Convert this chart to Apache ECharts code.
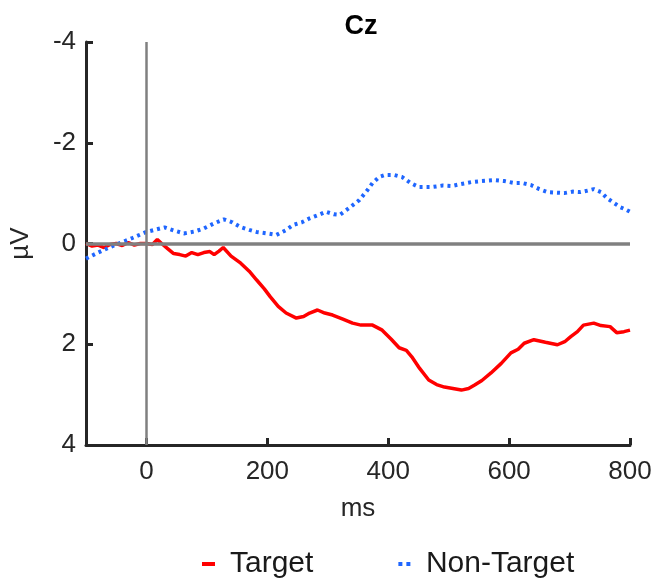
<!DOCTYPE html>
<html>
<head>
<meta charset="utf-8">
<script src="https://cdn.jsdelivr.net/npm/echarts@6/dist/echarts.min.js"></script>
<style>html,body{margin:0;padding:0;background:#fff;}#main{width:665px;height:579px;}</style>
</head>
<body>
<div id="main"></div>
<script>
const title = 'Cz';
const xTicks = [0, 200, 400, 600, 800];
const yTicks = [-4, -2, 0, 2, 4];
const seriesNames = ['Target', 'Non-Target'];

const targetTimes = [-100,-90,-80,-70,-60,-50,-40,-30,-20,-10,0,10,18,25,35,45,55,65,75,85,95,105,112,120,127,140,156,170,182,195,205,218,231,248,260,270,283,295,308,325,341,355,374,390,405,418,430,439,452,467,480,493,507,521,533,543,555,570,587,603,615,625,641,660,680,692,702,713,723,740,752,767,778,790,800];
const targetValues = [0.0,0.05,0.03,0.08,0.02,0.0,0.04,-0.02,0.03,0.0,0.0,0.02,-0.08,0.0,0.1,0.2,0.22,0.25,0.18,0.22,0.18,0.16,0.22,0.15,0.08,0.25,0.39,0.55,0.72,0.9,1.06,1.25,1.38,1.48,1.45,1.38,1.32,1.38,1.42,1.5,1.58,1.62,1.62,1.72,1.9,2.07,2.12,2.25,2.48,2.71,2.8,2.85,2.88,2.91,2.88,2.81,2.72,2.57,2.38,2.17,2.1,1.98,1.91,1.96,2.01,1.95,1.85,1.75,1.62,1.58,1.63,1.65,1.77,1.75,1.72];

const nonTargetTimes = [-100,-80,-52,-25,0,30,45,62,80,95,112,128,142,155,170,182,200,215,230,243,257,270,285,297,310,320,335,352,365,374,385,395,410,423,437,451,472,490,505,520,538,555,576,592,609,622,636,650,664,678,691,705,718,730,740,752,762,774,784,792,800];
const nonTargetValues = [0.3,0.18,0.03,-0.1,-0.23,-0.32,-0.26,-0.2,-0.24,-0.3,-0.4,-0.48,-0.42,-0.33,-0.27,-0.23,-0.2,-0.17,-0.26,-0.37,-0.42,-0.5,-0.57,-0.63,-0.58,-0.57,-0.7,-0.86,-1.05,-1.2,-1.32,-1.36,-1.36,-1.32,-1.2,-1.12,-1.12,-1.15,-1.14,-1.18,-1.22,-1.24,-1.26,-1.24,-1.2,-1.2,-1.16,-1.08,-1.02,-1.01,-1.0,-1.03,-1.02,-1.05,-1.08,-1.02,-0.9,-0.8,-0.72,-0.68,-0.63];

const zip = (t, v) => t.map((x, i) => [x, v[i]]);
const FONT = '"Liberation Sans", Arial, sans-serif';
const AX = '#262626';

const chart = echarts.init(document.getElementById('main'), null, {renderer: 'canvas'});
chart.setOption({
  animation: false,
  backgroundColor: '#ffffff',
  title: {
    text: title, left: 356, top: 8, textAlign: 'center',
    textStyle: {fontFamily: FONT, fontSize: 27, fontWeight: 'bold', color: '#000'}
  },
  grid: {left: 81, right: 35, top: 42, bottom: 134, containLabel: false},
  legend: {
    data: [
      {name: 'Target', icon: 'rect'},
      {name: 'Non-Target', icon: 'path://M0,0h4v4h-4z M8,0h4v4h-4z'}
    ],
    left: 202, top: 549, padding: 0, itemWidth: 13, itemHeight: 4, itemGap: 85,
    textStyle: {fontFamily: FONT, fontSize: 30, color: '#1a1a1a', padding: [0, 0, 0, 10]}
  },
  xAxis: {
    type: 'value', min: -100, max: 800,
    name: 'ms', nameLocation: 'middle', nameGap: 51,
    nameTextStyle: {fontFamily: FONT, fontSize: 26, color: AX},
    axisLine: {show: true, onZero: false, lineStyle: {color: AX, width: 3}},
    axisTick: {show: true, inside: true, length: 7, customValues: xTicks, lineStyle: {color: AX, width: 3}},
    axisLabel: {customValues: xTicks, margin: 14, fontFamily: FONT, fontSize: 26, color: AX},
    splitLine: {show: false}
  },
  yAxis: {
    type: 'value', min: -4, max: 4, interval: 2, inverse: true,
    name: 'µV', nameLocation: 'middle', nameGap: 52, nameRotate: 90,
    nameTextStyle: {fontFamily: FONT, fontSize: 26, color: AX},
    axisLine: {show: true, onZero: false, lineStyle: {color: AX, width: 3}},
    axisTick: {show: true, inside: true, length: 7, lineStyle: {color: AX, width: 3}},
    axisLabel: {margin: 10, fontFamily: FONT, fontSize: 26, color: AX},
    splitLine: {show: false}
  },
  series: [
    {
      name: 'zero', type: 'line', data: [], z: 1, silent: true,
      markLine: {
        silent: true, symbol: ['none', 'none'], label: {show: false},
        data: [
          {yAxis: 0, lineStyle: {color: '#808080', width: 3.5, type: 'solid'}},
          {xAxis: 0, lineStyle: {color: '#808080', width: 2.5, type: 'solid'}}
        ]
      }
    },
    {
      name: seriesNames[0], type: 'line', data: zip(targetTimes, targetValues),
      showSymbol: false, symbol: 'none', z: 3,
      lineStyle: {color: '#ff0000', width: 3.5}, itemStyle: {color: '#ff0000'}
    },
    {
      name: seriesNames[1], type: 'line', data: zip(nonTargetTimes, nonTargetValues),
      showSymbol: false, symbol: 'none', z: 4,
      lineStyle: {color: '#1f66ff', width: 4, type: [3, 4]}, itemStyle: {color: '#1f66ff'}
    }
  ]
});
</script>
</body>
</html>
